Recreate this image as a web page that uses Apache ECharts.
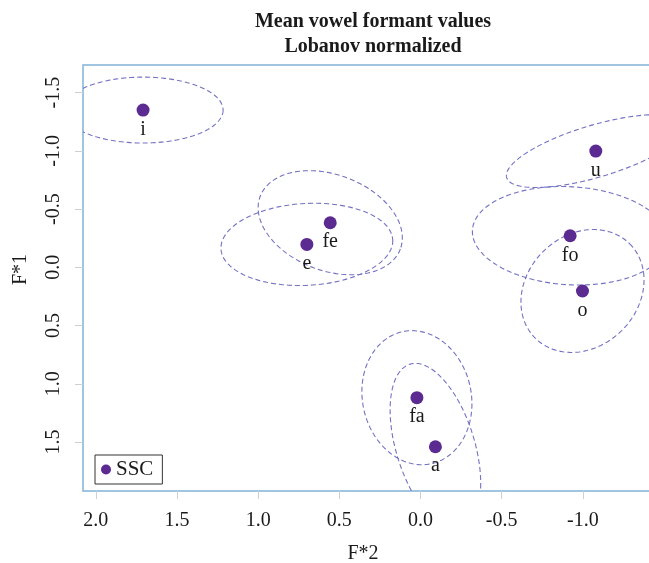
<!DOCTYPE html>
<html>
<head>
<meta charset="utf-8">
<script src="https://cdn.jsdelivr.net/npm/echarts@6/dist/echarts.min.js"></script>
<style>
    html, body { margin: 0; padding: 0; background: #fff; overflow: hidden; }
    /* the plot box runs past the right edge of the window, as in the original */
    #chart { width: 680px; height: 563px; }
</style>
</head>
<body>
<div id="chart"></div>
<script>
// vowel means, F*2 on x and F*1 on y (both axes reversed)
var vowels = ['i', 'u', 'fe', 'e', 'fo', 'o', 'fa', 'a'];
var f2 = [1.709, -1.080, 0.556, 0.700, -0.922, -0.998, 0.022, -0.092];
var f1 = [-1.350, -0.998, -0.383, -0.197, -0.271, 0.203, 1.119, 1.540];

// ellipse around each mean: point = mean + U*cos(t) + V*sin(t)
var ellipseU = [[-0.493, 0], [-0.549, -0.228], [-0.432, 0.225], [-0.529, -0.039],
                [-0.602, 0.048], [-0.291, -0.405], [-0.339, 0.052], [-0.279, 0.316]];
var ellipseV = [[0, 0.283], [-0.046, 0.214], [0.103, 0.386], [-0.013, 0.351],
                [0.017, 0.420], [-0.243, 0.338], [0, 0.573], [0, 0.642]];

var xTicks = [2.0, 1.5, 1.0, 0.5, 0.0, -0.5, -1.0];
var yTicks = [-1.5, -1.0, -0.5, 0.0, 0.5, 1.0, 1.5];

var serif = "'Liberation Serif', 'DejaVu Serif', serif";

var chart = echarts.init(document.getElementById('chart'));

function renderEllipse(params, api) {
    var cx = api.value(0), cy = api.value(1);
    var ux = api.value(2), uy = api.value(3), vx = api.value(4), vy = api.value(5);
    var pts = [];
    for (var k = 0; k <= 160; k++) {
        var t = k / 160 * Math.PI * 2;
        pts.push(api.coord([cx + ux * Math.cos(t) + vx * Math.sin(t),
                            cy + uy * Math.cos(t) + vy * Math.sin(t)]));
    }
    var cs = params.coordSys;
    return {
        type: 'group',
        clipPath: { type: 'rect', shape: { x: cs.x, y: cs.y, width: cs.width, height: cs.height } },
        children: [{
            type: 'polyline',
            shape: { points: pts },
            style: { stroke: '#7372c2', lineWidth: 1.1, lineDash: [5, 3], fill: null },
            silent: true
        }]
    };
}

var option = {
    animation: false,
    graphic: [{
        type: 'text',
        x: 373,
        y: 9,
        style: {
            text: 'Mean vowel formant values\nLobanov normalized',
            font: 'bold 20px ' + serif,
            lineHeight: 25,
            textAlign: 'center',
            fill: '#1a1a1a'
        }
    }],
    legend: {
        data: ['SSC'],
        left: 95,
        top: 455,
        icon: 'circle',
        itemWidth: 10,
        itemHeight: 10,
        padding: [4, 9, 4, 6],
        borderColor: '#333',
        borderWidth: 1,
        backgroundColor: '#fff',
        textStyle: { fontFamily: serif, fontSize: 21, color: '#1a1a1a' }
    },
    grid: {
        left: 83,
        top: 65,
        width: 580,
        height: 426,
        outerBoundsMode: 'none',
        show: true,
        borderColor: '#80b2d6',
        borderWidth: 1.5
    },
    xAxis: {
        type: 'value',
        inverse: true,
        min: -1.494,
        max: 2.079,
        name: 'F*2',
        nameLocation: 'middle',
        nameGap: 53,
        nameTextStyle: { fontFamily: serif, fontSize: 20, color: '#1a1a1a', padding: [0, 20, 0, 0] },
        axisLine: { show: false, onZero: false },
        splitLine: { show: false },
        axisTick: { show: true, length: 8, lineStyle: { color: '#d0d0d0' }, customValues: xTicks },
        axisLabel: {
            customValues: xTicks,
            margin: 20,
            fontFamily: serif, fontSize: 20, color: '#1a1a1a',
            formatter: function (v) { return v.toFixed(1); }
        }
    },
    yAxis: {
        type: 'value',
        inverse: true,
        min: -1.737,
        max: 1.920,
        name: 'F*1',
        nameLocation: 'middle',
        nameGap: 52,
        nameTextStyle: { fontFamily: serif, fontSize: 20, color: '#1a1a1a', padding: [0, 0, 0, 17] },
        axisLine: { show: false, onZero: false },
        splitLine: { show: false },
        axisTick: { show: true, length: 8, lineStyle: { color: '#d0d0d0' }, customValues: yTicks },
        axisLabel: {
            customValues: yTicks,
            rotate: 90,
            margin: 19,
            fontFamily: serif, fontSize: 20, color: '#1a1a1a',
            formatter: function (v) { return v.toFixed(1); }
        }
    },
    series: [
        {
            name: 'ellipses',
            type: 'custom',
            renderItem: renderEllipse,
            encode: { x: 0, y: 1 },
            z: 1,
            data: vowels.map(function (v, k) {
                return [f2[k], f1[k], ellipseU[k][0], ellipseU[k][1], ellipseV[k][0], ellipseV[k][1]];
            })
        },
        {
            name: 'SSC',
            type: 'scatter',
            symbolSize: 13,
            z: 3,
            itemStyle: { color: '#5b2b91', opacity: 1 },
            label: {
                show: true,
                position: 'bottom',
                distance: 3,
                fontFamily: serif,
                fontSize: 20,
                color: '#1a1a1a',
                formatter: function (p) { return vowels[p.dataIndex]; }
            },
            data: vowels.map(function (v, k) { return [f2[k], f1[k]]; })
        }
    ]
};
chart.setOption(option);
</script>
</body>
</html>
